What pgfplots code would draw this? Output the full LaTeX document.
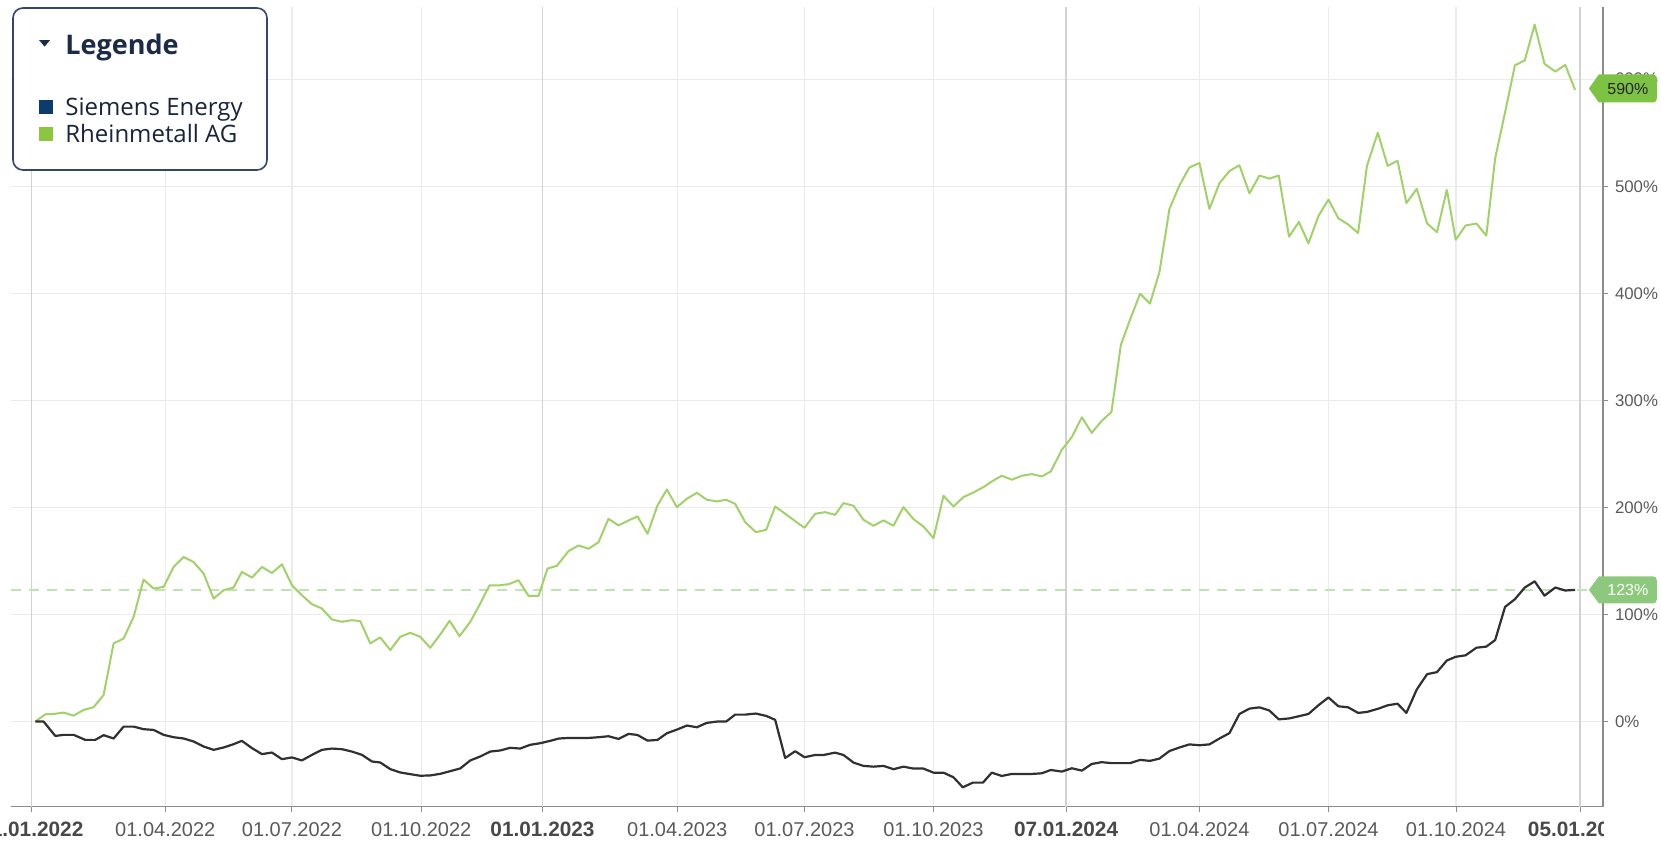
\documentclass[border=0pt]{standalone}
\usepackage{fontspec}
\setmainfont{Liberation Sans}
\newfontfamily\opensans{Open Sans}
\usepackage{pgfplots}
\usepackage{pgfplotstable}
\pgfplotsset{compat=1.18}

\definecolor{rheingreen}{HTML}{A0D269}
\definecolor{siemline}{HTML}{303030}
\definecolor{dashgreen}{HTML}{C3E2B3}
\definecolor{gridgrey}{HTML}{EBEBEB}
\definecolor{darkgrid}{HTML}{D2D2D2}
\definecolor{axisgrey}{HTML}{8C8C8C}
\definecolor{labelgrey}{HTML}{5A5A5A}
\definecolor{navy}{HTML}{0C3C6E}
\definecolor{legendgreen}{HTML}{8CC63F}
\definecolor{legendborder}{HTML}{34466E}
\definecolor{legendtext}{HTML}{1C2B48}
\definecolor{tagdark}{HTML}{7DC243}
\definecolor{taglight}{HTML}{8DC97C}

% x = weeks since 02.01.2022, y = performance in %
\pgfplotstableread{
w y
0.4 0
1.42 6.8
2.26 7.1
3.28 8.4
4.29 5.6
5.3 10.9
6.31 13.4
7.33 24.8
8.34 73
9.36 77.6
10.37 97.8
11.38 132.6
12.4 124.2
13.41 125.8
14.42 144.4
15.44 153.7
16.45 149
17.47 138.2
18.48 114.9
19.49 122.7
20.5 125.2
21.35 139.8
22.37 134.5
23.38 144.4
24.39 138.8
25.41 146.9
26.42 127.3
27.43 118
28.45 109.6
29.46 105.6
30.48 95.3
31.49 93.2
32.5 94.7
33.35 93.8
34.36 73
35.37 78.6
36.39 66.8
37.4 79.2
38.41 82.9
39.43 79.2
40.44 68.9
41.46 81.4
42.4 94.1
43.41 79.8
44.5 93.2
45.51 110.2
46.45 127.3
47.47 127.3
48.38 128.3
49.39 132
50.41 117.4
51.42 117.4
52.33 142.9
53.28 145.5
54.46 159.2
55.47 164.5
56.49 161.4
57.5 167.6
58.51 189.4
59.53 183.2
60.54 187.9
61.45 191.6
62.47 175.4
63.48 201.9
64.43 216.8
65.44 200.3
66.46 208.1
67.47 213.7
68.48 207.2
69.5 205.6
70.44 207.2
71.35 203.4
72.37 186.3
73.45 176.9
74.5 179.1
75.41 200.9
76.42 194.1
77.44 187.2
78.38 181
79.46 194.1
80.48 195.6
81.49 193.1
82.33 204
83.35 201.6
84.36 188.5
85.37 182.9
86.39 187.9
87.4 182.9
88.41 200.3
89.43 189.1
90.44 182.2
91.46 171.3
92.47 210.9
93.48 200.9
94.5 209.7
95.51 214
96.52 219
97.54 225.2
98.38 229.6
99.4 225.9
100.41 229.6
101.43 231.2
102.44 229
103.35 233.6
104.47 253.9
105.48 265.7
106.5 284.2
107.5 269.6
108.5 280.8
109.5 289.2
110.45 351.7
111.4 375.8
112.4 399.6
113.4 390.4
114.36 419.6
115.38 478.8
116.39 500.8
117.4 517.5
118.42 521.7
119.43 478.8
120.45 502.9
121.46 514.2
122.47 519.6
123.49 493.3
124.5 510
125.5 507.1
126.46 510
127.5 452.9
128.5 466.7
129.47 446.7
130.5 472.5
131.5 487.5
132.5 470
133.5 464.3
134.5 456.2
135.4 519
136.5 550
137.5 519
138.5 523.8
139.4 484.3
140.45 497.6
141.5 465.2
142.5 457.1
143.5 496.7
144.4 450
145.4 463.3
146.5 465.2
147.5 453.8
148.4 526.2
149.4 569
150.4 612.9
151.4 617.6
152.4 651
153.4 614.3
154.5 607.1
155.5 613.3
156.5 590
}\rheinmetall

\pgfplotstableread{
w y
0.4 0
1.25 0
2.43 -13.4
3.28 -12.4
4.29 -12.4
5.47 -17.1
6.48 -17.1
7.33 -12.7
8.34 -15.8
9.36 -4.7
10.37 -4.7
11.38 -7.1
12.4 -7.8
13.41 -12.4
14.42 -14.6
15.44 -15.8
16.45 -18.6
17.47 -23.3
18.48 -26.4
19.49 -24.2
20.5 -21.1
21.35 -18
22.37 -24.8
23.38 -30.4
24.39 -28.9
25.41 -35.1
26.42 -33.5
27.43 -36.3
28.45 -31.1
29.46 -26.4
30.48 -25.2
31.49 -25.8
32.5 -28
33.52 -31.1
34.53 -37.3
35.37 -38.2
36.39 -44.4
37.4 -47.5
38.41 -49.1
39.43 -50.6
40.44 -50.3
41.46 -48.8
42.47 -46.3
43.48 -43.8
44.5 -36.3
45.51 -32.6
46.52 -28
47.53 -27
48.55 -24.5
49.56 -25.2
50.57 -21.7
51.59 -20.2
52.6 -18
53.5 -15.8
54.46 -15.3
55.47 -15.3
56.49 -15.3
57.5 -14.6
58.51 -13.7
59.53 -16.2
60.54 -11.5
61.45 -12.5
62.47 -17.8
63.48 -17.1
64.43 -10.9
65.44 -7.5
66.46 -3.7
67.47 -5.3
68.48 -1.2
69.5 0
70.44 0
71.35 6.5
72.37 6.5
73.45 7.5
74.5 5.3
75.41 1.6
76.42 -34
77.44 -27.7
78.38 -33.3
79.46 -31.2
80.31 -31.2
81.49 -29
82.33 -31.2
83.35 -38.3
84.36 -41.4
85.37 -42.1
86.39 -41.4
87.4 -44.5
88.41 -42.1
89.43 -43.9
90.44 -43.9
91.46 -47.7
92.47 -47.7
93.48 -52
94.43 -61.4
95.45 -57
96.47 -57
97.37 -47.7
98.38 -50.8
99.4 -48.9
100.41 -48.9
101.43 -48.9
102.44 -48.3
103.35 -45.2
104.47 -46.7
105.48 -43.6
106.5 -45.8
107.5 -39.6
108.5 -37.9
109.5 -38.8
110.45 -38.8
111.4 -38.8
112.4 -35.8
113.4 -36.7
114.36 -34.6
115.38 -27.5
116.39 -24.2
117.4 -21.3
118.42 -22.1
119.43 -21.3
120.45 -15.8
121.46 -10.8
122.47 7.1
123.49 12.1
124.5 13.3
125.5 10.4
126.46 2.1
127.5 2.9
128.5 5
129.47 7.1
130.5 15.4
131.5 22.5
132.5 14.3
133.5 13.3
134.5 8.1
135.4 9
136.5 11.9
137.5 15.2
138.5 16.7
139.4 8.1
140.45 30
141.5 44.3
142.5 46.2
143.5 57.1
144.4 60.5
145.4 61.9
146.5 69
147.5 70
148.4 76.2
149.4 107.1
150.4 114.3
151.4 125.2
152.4 131
153.4 117.6
154.5 125.2
155.5 122.4
156.5 123
}\siemens

\begin{document}
\begin{tikzpicture}
\begin{axis}[
  at={(5.3pt,17.15pt)}, anchor=south west,
  scale only axis, width=796.2pt, height=399.9pt,
  xmin=-2.1, xmax=159.33, ymin=-79.5, ymax=667.5,
  axis x line*=bottom, axis y line*=right,
  axis line style={draw=axisgrey, line width=0.6pt},
  every tick/.style={draw=axisgrey, line width=0.5pt},
  tick align=outside, major tick length=2.5pt,
  grid=major, grid style={draw=gridgrey, line width=0.6pt},
  ytick={0,100,200,300,400,500,600},
  yticklabel={\pgfmathprintnumber{\tick}\%},
  /pgf/number format/assume math mode=true,
  yticklabel style={font=\fontsize{8.4}{10}\selectfont, text=labelgrey, anchor=west, inner sep=0pt, xshift=3.3pt},
  xtick={13.58,26.42,39.53,65.48,78.38,91.46,118.42,131.5,144.43},
  xticklabels={01.04.2022,01.07.2022,01.10.2022,01.04.2023,01.07.2023,01.10.2023,01.04.2024,01.07.2024,01.10.2024},
  extra x ticks={0,51.82,104.9,157},
  extra x tick labels={\textbf{01.01.2022},\textbf{01.01.2023},\textbf{07.01.2024},\textbf{05.01.2025}},
  extra x tick style={grid style={draw=darkgrid, line width=0.7pt},
    xticklabel style={font=\fontsize{10.4}{12}\selectfont, text=labelgrey!80!black}},
  xticklabel style={font=\fontsize{10}{12}\selectfont, text=labelgrey, anchor=base, inner sep=0pt, yshift=-12.6pt},
  clip=false,
]
\addplot[dashgreen, line width=1pt, dash pattern=on 5pt off 4pt] coordinates {(-2.1,123) (157.9,123)};
\addplot[rheingreen, line width=1pt, line join=round] table[x=w,y=y] {\rheinmetall};
\addplot[siemline, line width=1.1pt, line join=round] table[x=w,y=y] {\siemens};
\coordinate (t590) at (axis cs:157.9,590);
\coordinate (t123) at (axis cs:157.9,123);
\end{axis}
% value tags
\fill[tagdark] ([yshift=0.7pt]t590) -- ++(5pt,7pt) -- ++(27pt,0pt) [rounded corners=2pt] -- ++(2pt,0pt) -- ++(0pt,-14pt) -- ++(-2pt,0pt) [sharp corners] -- ++(-27pt,0pt) -- cycle;
\node[font=\fontsize{8}{9}\selectfont, text=black!85, inner sep=0pt] at ([xshift=19.5pt,yshift=0.5pt]t590) {590\%};
\fill[taglight] (t123) -- ++(5pt,6.8pt) -- ++(27pt,0pt) [rounded corners=2pt] -- ++(2pt,0pt) -- ++(0pt,-13.6pt) -- ++(-2pt,0pt) [sharp corners] -- ++(-27pt,0pt) -- cycle;
\node[font=\fontsize{8}{9}\selectfont, text=white, inner sep=0pt] at ([xshift=19.5pt]t123) {123\%};
% mask the cut-off last date label
\fill[white] (801.8pt,0pt) rectangle (831pt,14pt);
% legend
\draw[legendborder, line width=0.8pt, fill=white, rounded corners=5pt] (6.5pt,335.5pt) rectangle (133.5pt,416.5pt);
\fill[legendtext] (19.6pt,400.4pt) -- (25pt,400.4pt) -- (22.3pt,397.2pt) -- cycle;
\node[anchor=base west, inner sep=0pt, font=\opensans\bfseries\fontsize{13.5}{15}\selectfont, text=legendtext] at (32.5pt,393pt) {Legende};
\fill[navy] (19.5pt,363.6pt) rectangle (26.3pt,370.4pt);
\fill[legendgreen] (19.5pt,350.1pt) rectangle (26.3pt,356.9pt);
\node[anchor=base west, inner sep=0pt, font=\opensans\fontsize{12}{14}\selectfont, text=legendtext!85!black] at (32.5pt,362.7pt) {Siemens Energy};
\node[anchor=base west, inner sep=0pt, font=\opensans\fontsize{12}{14}\selectfont, text=legendtext!85!black] at (32.5pt,349.2pt) {Rheinmetall AG};
\pgfresetboundingbox
\useasboundingbox (0pt,0pt) rectangle (830.5pt,420.5pt);
\end{tikzpicture}
\end{document}
